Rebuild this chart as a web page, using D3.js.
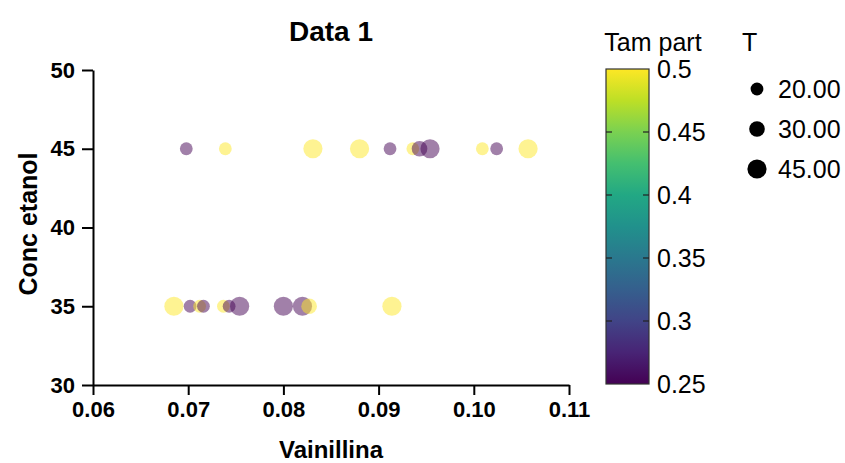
<!DOCTYPE html>
<html lang="es">
<head>
<meta charset="UTF-8"/>
<title>Data 1</title>
<script src="https://d3js.org/d3.v7.min.js"></script>
<style>
    body { margin: 0; background: #fff; font-family: "Liberation Sans", Arial, sans-serif; }
</style>
</head>
<body>
<div id="grafico"></div>
<script>
    // datos
    const vainillina = [0.0698, 0.0739, 0.0831, 0.0880, 0.0912, 0.0936, 0.0943, 0.0954, 0.1009, 0.1024, 0.1057,
                        0.0685, 0.0702, 0.0712, 0.0716, 0.0737, 0.0743, 0.0754, 0.0800, 0.0820, 0.0827, 0.0914];
    const concEtanol = [45, 45, 45, 45, 45, 45, 45, 45, 45, 45, 45,
                        35, 35, 35, 35, 35, 35, 35, 35, 35, 35, 35];
    const tamPart    = [0.25, 0.5, 0.5, 0.5, 0.25, 0.5, 0.25, 0.25, 0.5, 0.25, 0.5,
                        0.5, 0.25, 0.5, 0.25, 0.5, 0.25, 0.25, 0.25, 0.25, 0.5, 0.5];
    const temp       = [20, 20, 45, 45, 20, 20, 30, 45, 20, 20, 45,
                        45, 20, 20, 20, 20, 20, 45, 45, 45, 30, 45];
    const xTicks = [0.06, 0.07, 0.08, 0.09, 0.10, 0.11];
    const yTicks = [30, 35, 40, 45, 50];
    const colorTicks = [0.25, 0.3, 0.35, 0.4, 0.45, 0.5];
    const sizeLegend = [20, 30, 45];

    const W = 845, H = 463;
    const svg = d3.select("#grafico").append("svg")
        .attr("width", W).attr("height", H)
        .style("font-family", "'Liberation Sans', Arial, sans-serif");

    const x = d3.scaleLinear().domain([0.06, 0.11]).range([93, 569]);
    const y = d3.scaleLinear().domain([30, 50]).range([385, 70]);
    const color = d3.scaleSequential(d3.interpolateViridis).domain([0.25, 0.5]);
    const r = d3.scaleSqrt().domain([0, 45]).range([0, 9.6]);

    // titulo
    svg.append("text")
        .attr("x", 331).attr("y", 41)
        .attr("text-anchor", "middle")
        .attr("font-size", 28).attr("font-weight", "bold")
        .text("Data 1");

    // ejes
    const xAxis = svg.append("g")
        .attr("transform", `translate(0,${y(30)})`)
        .call(d3.axisBottom(x).tickValues(xTicks).tickFormat(d3.format(".2f")).tickSize(10).tickPadding(6).tickSizeOuter(0));
    const yAxis = svg.append("g")
        .attr("transform", `translate(${x(0.06)},0)`)
        .call(d3.axisLeft(y).tickValues(yTicks).tickSize(11).tickPadding(7).tickSizeOuter(0));
    [xAxis, yAxis].forEach(g => {
        g.attr("font-size", null).attr("font-family", null);
        g.select(".domain").attr("stroke", "#000").attr("stroke-width", 2);
        g.selectAll(".tick line").attr("stroke", "#000").attr("stroke-width", 2);
        g.selectAll(".tick text")
            .style("font-size", "22px").style("font-weight", "bold")
            .style("font-family", "'Liberation Sans', Arial, sans-serif")
            .attr("fill", "#000");
    });

    svg.append("text")
        .attr("x", 331).attr("y", 458)
        .attr("text-anchor", "middle")
        .attr("font-size", 24).attr("font-weight", "bold")
        .text("Vainillina");
    svg.append("text")
        .attr("transform", "translate(37,224) rotate(-90)")
        .attr("text-anchor", "middle")
        .attr("font-size", 25).attr("font-weight", "bold")
        .text("Conc etanol");

    // puntos
    const puntos = vainillina.map((v, i) => ({ v, e: concEtanol[i], tam: tamPart[i], t: temp[i] }));
    svg.append("g").selectAll("circle")
        .data(puntos)
        .join("circle")
        .attr("cx", d => x(d.v))
        .attr("cy", d => y(d.e))
        .attr("r", d => r(d.t))
        .attr("fill", d => color(d.tam))
        .attr("fill-opacity", 0.5);

    // barra de color
    const cbX = 606, cbW = 43;
    const cbY = d3.scaleLinear().domain([0.25, 0.5]).range([384, 69]);
    const grad = svg.append("defs").append("linearGradient")
        .attr("id", "viridis").attr("x1", 0).attr("y1", 1).attr("x2", 0).attr("y2", 0);
    d3.range(0, 1.0001, 0.1).forEach(t => {
        grad.append("stop").attr("offset", t).attr("stop-color", d3.interpolateViridis(t));
    });
    svg.append("rect")
        .attr("x", cbX).attr("y", cbY(0.5))
        .attr("width", cbW).attr("height", cbY(0.25) - cbY(0.5))
        .attr("fill", "url(#viridis)")
        .attr("stroke", "#333").attr("stroke-width", 1.2);
    const cbTicks = svg.append("g");
    cbTicks.selectAll("line.l")
        .data(colorTicks.slice(1, -1))
        .join("line").attr("class", "l")
        .attr("x1", cbX).attr("x2", cbX + 6)
        .attr("y1", d => cbY(d)).attr("y2", d => cbY(d))
        .attr("stroke", "#222").attr("stroke-width", 1.2);
    cbTicks.selectAll("line.r")
        .data(colorTicks.slice(1, -1))
        .join("line").attr("class", "r")
        .attr("x1", cbX + cbW - 6).attr("x2", cbX + cbW)
        .attr("y1", d => cbY(d)).attr("y2", d => cbY(d))
        .attr("stroke", "#222").attr("stroke-width", 1.2);
    cbTicks.selectAll("text")
        .data(colorTicks)
        .join("text")
        .attr("x", cbX + cbW + 8)
        .attr("y", d => cbY(d))
        .attr("dy", "0.35em")
        .attr("font-size", 25)
        .text(d => d);
    svg.append("text")
        .attr("x", 653).attr("y", 51)
        .attr("text-anchor", "middle")
        .attr("font-size", 25)
        .text("Tam part");

    // leyenda de tamaño
    svg.append("text")
        .attr("x", 742).attr("y", 51)
        .attr("font-size", 25)
        .text("T");
    const ley = svg.append("g").selectAll("g")
        .data(sizeLegend)
        .join("g")
        .attr("transform", (d, i) => `translate(757,${89 + i * 40})`);
    ley.append("circle")
        .attr("r", d => r(d))
        .attr("fill", "#000");
    ley.append("text")
        .attr("x", 21)
        .attr("dy", "0.35em")
        .attr("font-size", 25)
        .text(d => d3.format(".2f")(d));
</script>
</body>
</html>
